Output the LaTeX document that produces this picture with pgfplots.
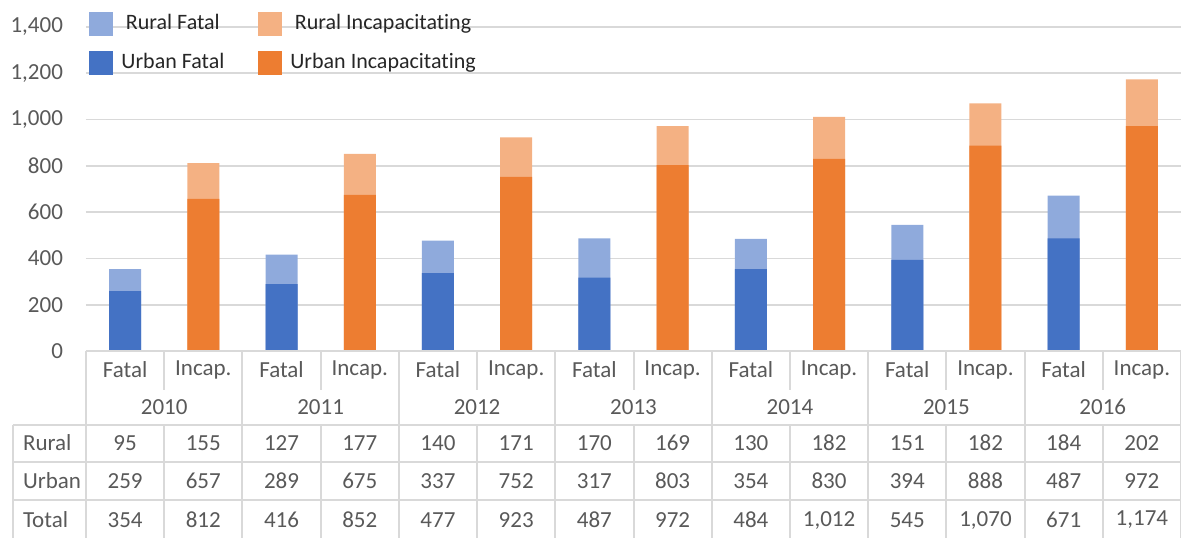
\documentclass[border=0pt]{standalone}
\usepackage{pgfplots}
\pgfplotsset{compat=1.18}
\usepackage{fontspec}
\setmainfont{Carlito}[Ligatures=NoCommon]
\definecolor{uf}{HTML}{4472C4}
\definecolor{rf}{HTML}{8FAADC}
\definecolor{ui}{HTML}{ED7D31}
\definecolor{ri}{HTML}{F4B183}
\definecolor{gridc}{HTML}{D9D9D9}
\definecolor{txt}{HTML}{595959}
\begin{document}
\begin{tikzpicture}[font=\fontsize{11.5}{13.8}\selectfont]
\useasboundingbox (-43pt,-93.5pt) rectangle (547.5pt,175.5pt);
\begin{axis}[
 scale only axis, width=547.5pt, height=162pt,
 xmin=-0.5, xmax=13.5, ymin=0, ymax=1400,
 ytick={0,200,...,1400}, xtick=\empty,
 axis line style={draw=none},
 ymajorgrids, grid style={gridc, line width=0.8pt},
 major tick length=0pt,
 yticklabel style={text=txt, xshift=-8pt, /pgf/number format/1000 sep={,}},
 /pgf/number format/assume math mode=true,
 ybar, bar width=16pt,
 legend columns=2,
 legend style={draw=none, fill=none, at={(rel axis cs:0,1)}, anchor=north west,
   xshift=1.5pt, yshift=8.5pt, inner sep=0pt, row sep=6.5pt,
   font=\fontsize{11}{13}\selectfont, text=black!85},
 /tikz/every even column/.append style={column sep=15pt},
 legend image code/.code={\fill[#1, draw=none] (0pt,-6pt) rectangle (12pt,6pt); \path (14pt,0pt);},
 clip=false,
]
\addplot[fill=rf, draw=none, bar shift=0pt] coordinates {(0,354) (2,416) (4,477) (6,487) (8,484) (10,545) (12,671)};
\addplot[fill=ri, draw=none, bar shift=0pt] coordinates {(1,812) (3,852) (5,923) (7,972) (9,1012) (11,1070) (13,1174)};
\addplot[fill=uf, draw=none, bar shift=0pt] coordinates {(0,259) (2,289) (4,337) (6,317) (8,354) (10,394) (12,487)};
\addplot[fill=ui, draw=none, bar shift=0pt] coordinates {(1,657) (3,675) (5,752) (7,803) (9,830) (11,888) (13,972)};
\legend{Rural Fatal, Rural Incapacitating, Urban Fatal, Urban Incapacitating}
\end{axis}
\def\cw{39.107pt}
\begin{scope}[draw=gridc, line width=1pt]
\draw (0,0) -- (547.5pt,0);
\foreach \y in {-37,-55.5,-74.5} \draw (-36.5pt,\y pt) -- (547.5pt,\y pt);
\draw (-36.5pt,-37pt) -- (-36.5pt,-93.5pt);
\foreach \k in {0,2,...,14} \draw ({\k*\cw},0) -- ({\k*\cw},-93.5pt);
\foreach \k in {1,3,...,13} {\draw ({\k*\cw},0) -- ({\k*\cw},-19.5pt); \draw ({\k*\cw},-37pt) -- ({\k*\cw},-93.5pt);}
\end{scope}
\begin{scope}[text=txt]
\foreach \k in {0,2,...,12} \node at ({(\k+0.5)*\cw},-9.5pt) {Fatal};
\foreach \k in {1,3,...,13} \node at ({(\k+0.5)*\cw},-9.5pt) {Incap.};
\foreach \v [count=\i from 0] in {2010,2011,2012,2013,2014,2015,2016} \node at ({(2*\i+1)*\cw},-28pt) {\v};
\foreach \v [count=\i from 0] in {95,155,127,177,140,171,170,169,130,182,151,182,184,202} \node at ({(\i+0.5)*\cw},-46pt) {\v};
\foreach \v [count=\i from 0] in {259,657,289,675,337,752,317,803,354,830,394,888,487,972} \node at ({(\i+0.5)*\cw},-65pt) {\v};
\foreach \v [count=\i from 0] in {354,812,416,852,477,923,487,972,484,{1,012},545,{1,070},671,{1,174}} \node at ({(\i+0.5)*\cw},-84.5pt) {\v};
\node[anchor=west] at (-35pt,-46pt) {Rural};
\node[anchor=west] at (-35pt,-65pt) {Urban};
\node[anchor=west] at (-35pt,-84.5pt) {Total};
\end{scope}
\end{tikzpicture}
\end{document}
